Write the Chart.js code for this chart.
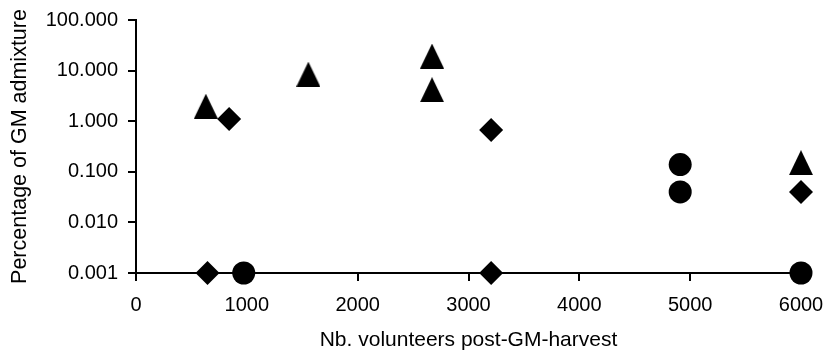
<!DOCTYPE html>
<html><head><meta charset="utf-8">
<script src="https://cdn.jsdelivr.net/npm/chart.js@4"></script>
<style>html,body{margin:0;padding:0;background:#fff}</style>
</head><body>
<canvas id="c" width="827" height="355"></canvas>
<script>
const triangleX = [630, 1555, 2671, 2671, 6000];
const triangleY = [1.98, 8.5, 19.4, 4.2, 0.152];
const diamondX = [840, 3204, 645, 3204, 6000];
const diamondY = [1.1, 0.67, 0.001, 0.001, 0.04];
const circleX = [972, 4910, 4910, 6000];
const circleY = [0.001, 0.139, 0.04, 0.001];
const xTicks = [0, 1000, 2000, 3000, 4000, 5000, 6000];
const yTicks = [0.001, 0.01, 0.1, 1, 10, 100];
const xTitle = 'Nb. volunteers post-GM-harvest';
const yTitle = 'Percentage of GM admixture';

function pts(xs, ys) { return xs.map((x, i) => ({x: x, y: ys[i]})); }

const tri = document.createElement('canvas');
tri.width = 24; tri.height = 25;
(function(){ const g = tri.getContext('2d'); g.fillStyle = '#000'; g.beginPath(); g.moveTo(12, 0); g.lineTo(24, 25); g.lineTo(0, 25); g.closePath(); g.fill(); })();

const FONT = "'Liberation Sans', Arial, sans-serif";
Chart.defaults.font.family = FONT;
Chart.defaults.color = '#000';

new Chart(document.getElementById('c'), {
  type: 'scatter',
  data: {
    datasets: [
      {label: 'triangle', data: pts(triangleX, triangleY), pointStyle: tri, clip: false},
      {label: 'diamond', data: pts(diamondX, diamondY), pointStyle: 'rectRot', pointRadius: 12, pointBorderWidth: 0, backgroundColor: '#000', borderColor: '#000', clip: false},
      {label: 'circle', data: pts(circleX, circleY), pointStyle: 'circle', pointRadius: 11.5, pointBorderWidth: 0, backgroundColor: '#000', borderColor: '#000', clip: false}
    ]
  },
  options: {
    responsive: false,
    animation: false,
    devicePixelRatio: 1,
    layout: {padding: {top: 20, right: 26, left: 0, bottom: 0}},
    plugins: {legend: {display: false}, tooltip: {enabled: false}},
    scales: {
      x: {
        type: 'linear', min: xTicks[0], max: xTicks[xTicks.length - 1],
        afterBuildTicks: s => { s.ticks = xTicks.map(v => ({value: v})); },
        afterFit: s => { s.height = 82; s.paddingLeft = 0; s.paddingRight = 0; },
        grid: {drawOnChartArea: false, drawTicks: true, tickLength: 8, color: '#000', lineWidth: 2},
        border: {display: true, color: '#000', width: 2},
        ticks: {font: {size: 20}, color: '#000', padding: 12, maxRotation: 0, autoSkip: false, callback: v => String(v)},
        title: {display: true, text: xTitle, font: {size: 21}, color: '#000', padding: {top: 0, bottom: 2}}
      },
      y: {
        type: 'logarithmic', min: yTicks[0], max: yTicks[yTicks.length - 1],
        afterBuildTicks: s => { s.ticks = yTicks.map(v => ({value: v})); },
        afterFit: s => { s.width = 136; s.paddingTop = 0; s.paddingBottom = 0; },
        grid: {drawOnChartArea: false, drawTicks: true, tickLength: 8, color: '#000', lineWidth: 2},
        border: {display: true, color: '#000', width: 2},
        ticks: {font: {size: 20}, color: '#000', padding: 10, autoSkip: false, callback: v => Number(v).toFixed(3)},
        title: {display: true, text: yTitle, font: {size: 21.5}, color: '#000', padding: {top: 7, bottom: 0}}
      }
    }
  }
});
</script>
</body></html>
